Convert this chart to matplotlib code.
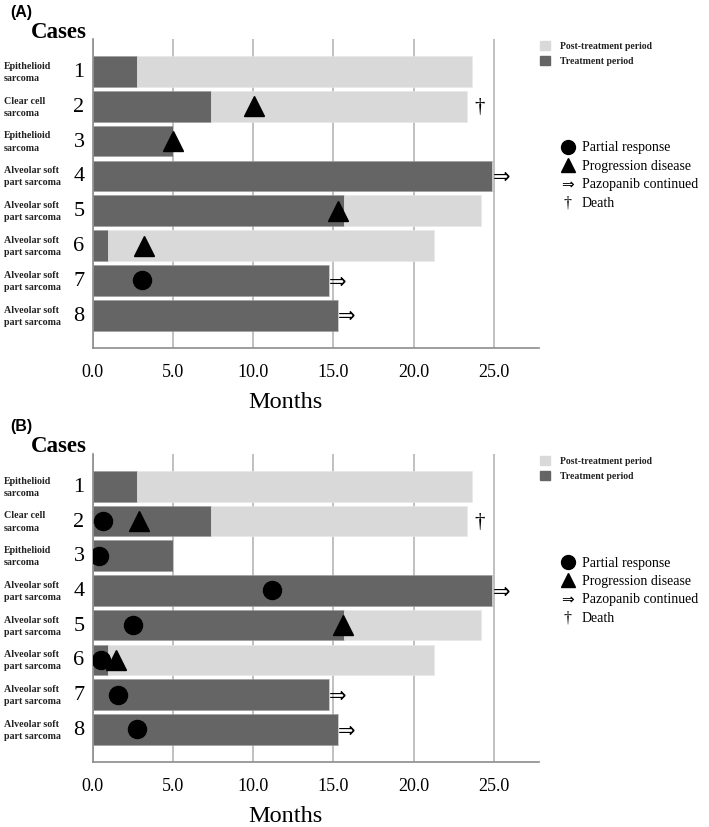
import matplotlib.pyplot as plt
from matplotlib.lines import Line2D
from matplotlib.patches import Rectangle
from matplotlib.transforms import blended_transform_factory

plt.rcParams["font.family"] = ["Liberation Serif", "DejaVu Serif"]

# data (months)
cases = [1, 2, 3, 4, 5, 6, 7, 8]
histology = ["Epithelioid\nsarcoma", "Clear cell\nsarcoma", "Epithelioid\nsarcoma",
             "Alveolar soft\npart sarcoma", "Alveolar soft\npart sarcoma",
             "Alveolar soft\npart sarcoma", "Alveolar soft\npart sarcoma",
             "Alveolar soft\npart sarcoma"]
treatment = [2.8, 7.35, 5.0, 24.9, 15.65, 0.95, 14.7, 15.3]
total = [23.6, 23.3, 5.0, 24.9, 24.2, 21.25, 14.7, 15.3]
continued_cases = [4, 7, 8]
death_cases = [2]
death_x = [23.8]

# panel A response markers
a_pr_cases = [7]
a_pr_x = [3.06]
a_pd_cases = [2, 3, 5, 6]
a_pd_x = [10.05, 5.0, 15.3, 3.2]

# panel B response markers
b_pr_cases = [2, 3, 4, 5, 6, 7, 8]
b_pr_x = [0.67, 0.42, 11.2, 2.54, 0.5, 1.6, 2.75]
b_pd_cases = [2, 5, 6]
b_pd_x = [2.9, 15.6, 1.44]

xticks = [0, 5, 10, 15, 20, 25]

DARK = "#656565"
LIGHT = "#d9d9d9"
GRID = "#b5b5b5"

W, H = 709, 828
fig = plt.figure(figsize=(W / 100, H / 100), dpi=100)


def fx(px):
    return px / W


def fy(py):
    return 1 - py / H


def panel(top_px, bottom_px, letter, pr_cases, pr_x, pd_cases, pd_x):
    ax = fig.add_axes([fx(92.5), fy(bottom_px), fx(539 - 92.5), (bottom_px - top_px) / H])
    post = [t - s for t, s in zip(total, treatment)]
    ax.barh(cases, treatment, height=0.88, color=DARK, edgecolor="#9a9a9a", linewidth=0.4, zorder=2)
    ax.barh(cases, post, left=treatment, height=0.88, color=LIGHT, edgecolor="#e8e8e8",
            linewidth=0.4, zorder=2)
    ax.plot(pr_x, pr_cases, "o", color="black", markersize=13, zorder=4, linestyle="none")
    ax.plot(pd_x, pd_cases, "^", color="black", markersize=14, zorder=4, linestyle="none")
    for c in continued_cases:
        ax.text(total[c - 1], c, "\u21d2", family=["DejaVu Sans"], fontsize=15,
                ha="left", va="center", zorder=4)
    for c, x in zip(death_cases, death_x):
        ax.text(x, c, "\u2020", fontsize=15, ha="left", va="center", zorder=4)

    ax.set_xlim(0, 27.8)
    ax.set_ylim(8.94, 0.07)
    ax.set_xticks(xticks)
    ax.set_xticklabels([f"{v:.1f}" for v in xticks], fontsize=13)
    ax.set_yticks([])
    ax.tick_params(axis="x", length=0, pad=11)
    ax.grid(axis="x", color=GRID, linewidth=1.2)
    ax.set_axisbelow(True)
    for s in ["top", "right"]:
        ax.spines[s].set_visible(False)
    for s in ["left", "bottom"]:
        ax.spines[s].set_color("#8c8c8c")
        ax.spines[s].set_linewidth(1.2)

    # case labels on the left
    tr = blended_transform_factory(fig.transFigure, ax.transData)
    for c, name in zip(cases, histology):
        ax.text(fx(4), c, name, transform=tr, fontsize=7.2, fontweight="bold",
                ha="left", va="center", linespacing=1.45, color="#222222")
        ax.text(fx(79), c, str(c), transform=tr, fontsize=16, ha="center", va="center")

    off = top_px - 40
    fig.text(fx(10), fy(12 + off), letter, family=["Liberation Sans"], fontsize=11.5,
             fontweight="bold", ha="left", va="center")
    fig.text(fx(59), fy(top_px - 8), "Cases", fontsize=16.5, fontweight="bold",
             ha="center", va="center")
    fig.text(fx(285), fy(bottom_px + 54), "Months", fontsize=17.5, ha="center", va="center")

    # period legend
    for i, (lab, col) in enumerate([("Post-treatment period", LIGHT), ("Treatment period", DARK)]):
        yc = 46.7 + off + 15 * i
        fig.add_artist(Rectangle((fx(540), fy(yc + 4.5)), fx(10), 9 / H, color=col,
                                 transform=fig.transFigure))
        fig.text(fx(560.5), fy(yc), lab, fontsize=7, fontweight="bold", ha="left",
                 va="center", color="#222222")

    # symbol legend
    labels = ["Partial response", "Progression disease", "Pazopanib continued", "Death"]
    for i, lab in enumerate(labels):
        yc = 148 + off + 18.4 * i
        if i == 0:
            fig.add_artist(Line2D([fx(567.7)], [fy(yc)], marker="o", color="black",
                                  markersize=10, transform=fig.transFigure))
        elif i == 1:
            fig.add_artist(Line2D([fx(567.7)], [fy(yc)], marker="^", color="black",
                                  markersize=10, transform=fig.transFigure))
        elif i == 2:
            fig.text(fx(567.7), fy(yc), "\u21d2", family=["DejaVu Sans"], fontsize=11,
                     ha="center", va="center")
        else:
            fig.text(fx(567.7), fy(yc), "\u2020", fontsize=11.5, ha="center", va="center")
        fig.text(fx(582), fy(yc), lab, fontsize=10, ha="left", va="center")
    return ax


panel(40, 349, "(A)", a_pr_cases, a_pr_x, a_pd_cases, a_pd_x)
panel(455, 763, "(B)", b_pr_cases, b_pr_x, b_pd_cases, b_pd_x)

fig.savefig("out.png", dpi=100)
